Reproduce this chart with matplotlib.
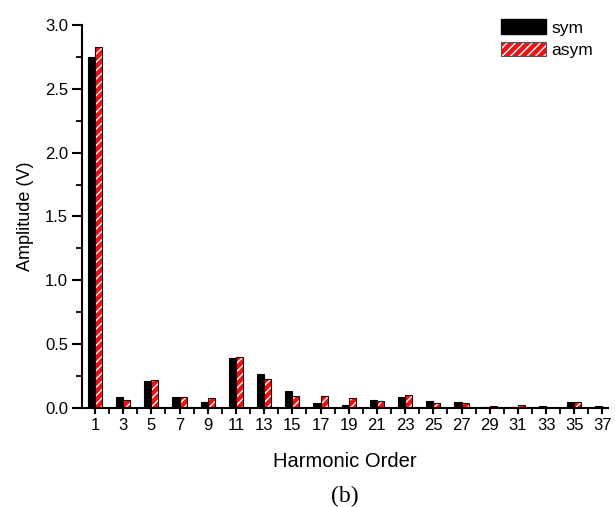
import numpy as np
import matplotlib.pyplot as plt
from matplotlib.patches import Patch
from matplotlib.ticker import MultipleLocator

# Harmonic spectrum, odd orders only
order = np.arange(1, 38, 2)
sym = [2.75, 0.088, 0.214, 0.088, 0.05, 0.39, 0.27, 0.135, 0.04, 0.023,
       0.065, 0.086, 0.057, 0.045, 0.005, 0.01, 0.015, 0.05, 0.015]
asym = [2.83, 0.063, 0.22, 0.086, 0.076, 0.40, 0.227, 0.096, 0.094, 0.078,
        0.057, 0.10, 0.043, 0.04, 0.015, 0.023, 0.005, 0.05, 0.004]

plt.rcParams['font.family'] = ['Liberation Sans', 'DejaVu Sans']
plt.rcParams['hatch.linewidth'] = 1.0

fig = plt.figure(figsize=(6.15, 5.07), dpi=100)
ax = fig.add_axes([0.1333, 0.195, 0.856, 0.756])

w = 0.5
ax.bar(order - w / 2, sym, width=w, color='black', edgecolor='black', linewidth=0.8)
ax.bar(order + w / 2, asym, width=w, color='#ee1111', edgecolor='white',
       hatch='////', linewidth=0)
ax.bar(order + w / 2, asym, width=w, fill=False, edgecolor='#330000', linewidth=0.8)

ax.set_xlim(0.08, 37.42)
ax.set_ylim(0, 3.0)
ax.set_xticks(order)
ax.xaxis.set_minor_locator(MultipleLocator(1))
ax.yaxis.set_major_locator(MultipleLocator(0.5))
ax.yaxis.set_minor_locator(MultipleLocator(0.25))
ax.yaxis.set_major_formatter(lambda v, p: f"{v:.1f}")

for s in ['top', 'right']:
    ax.spines[s].set_visible(False)
for s in ['left', 'bottom']:
    ax.spines[s].set_linewidth(1.5)

ax.tick_params(which='major', direction='out', length=7, width=1.5,
               labelsize=12, pad=3)
ax.tick_params(which='minor', direction='out', length=4, width=1.3)
ax.tick_params(axis='x', which='both', length=4)

ax.set_xlabel('Harmonic Order', fontsize=14.5, labelpad=14)
ax.set_ylabel('Amplitude (V)', fontsize=13, labelpad=8)

fig.text(0.561, 0.02, '(b)', family='Liberation Serif', fontsize=17,
         ha='center', va='center')

h_sym = Patch(facecolor='black', edgecolor='black')
h_hatch = Patch(facecolor='#ee1111', edgecolor='white', hatch='////', linewidth=0)
h_edge = Patch(fill=False, edgecolor='#555555', linewidth=0.8)
ax.legend([h_sym, (h_hatch, h_edge)], ['sym', 'asym'], loc='upper right',
          bbox_to_anchor=(1.0, 1.055), frameon=False, fontsize=12.5,
          handlelength=2.6, handleheight=0.9, handletextpad=0.3,
          labelspacing=0.35)

fig.savefig('out.png', dpi=100, facecolor='white')
